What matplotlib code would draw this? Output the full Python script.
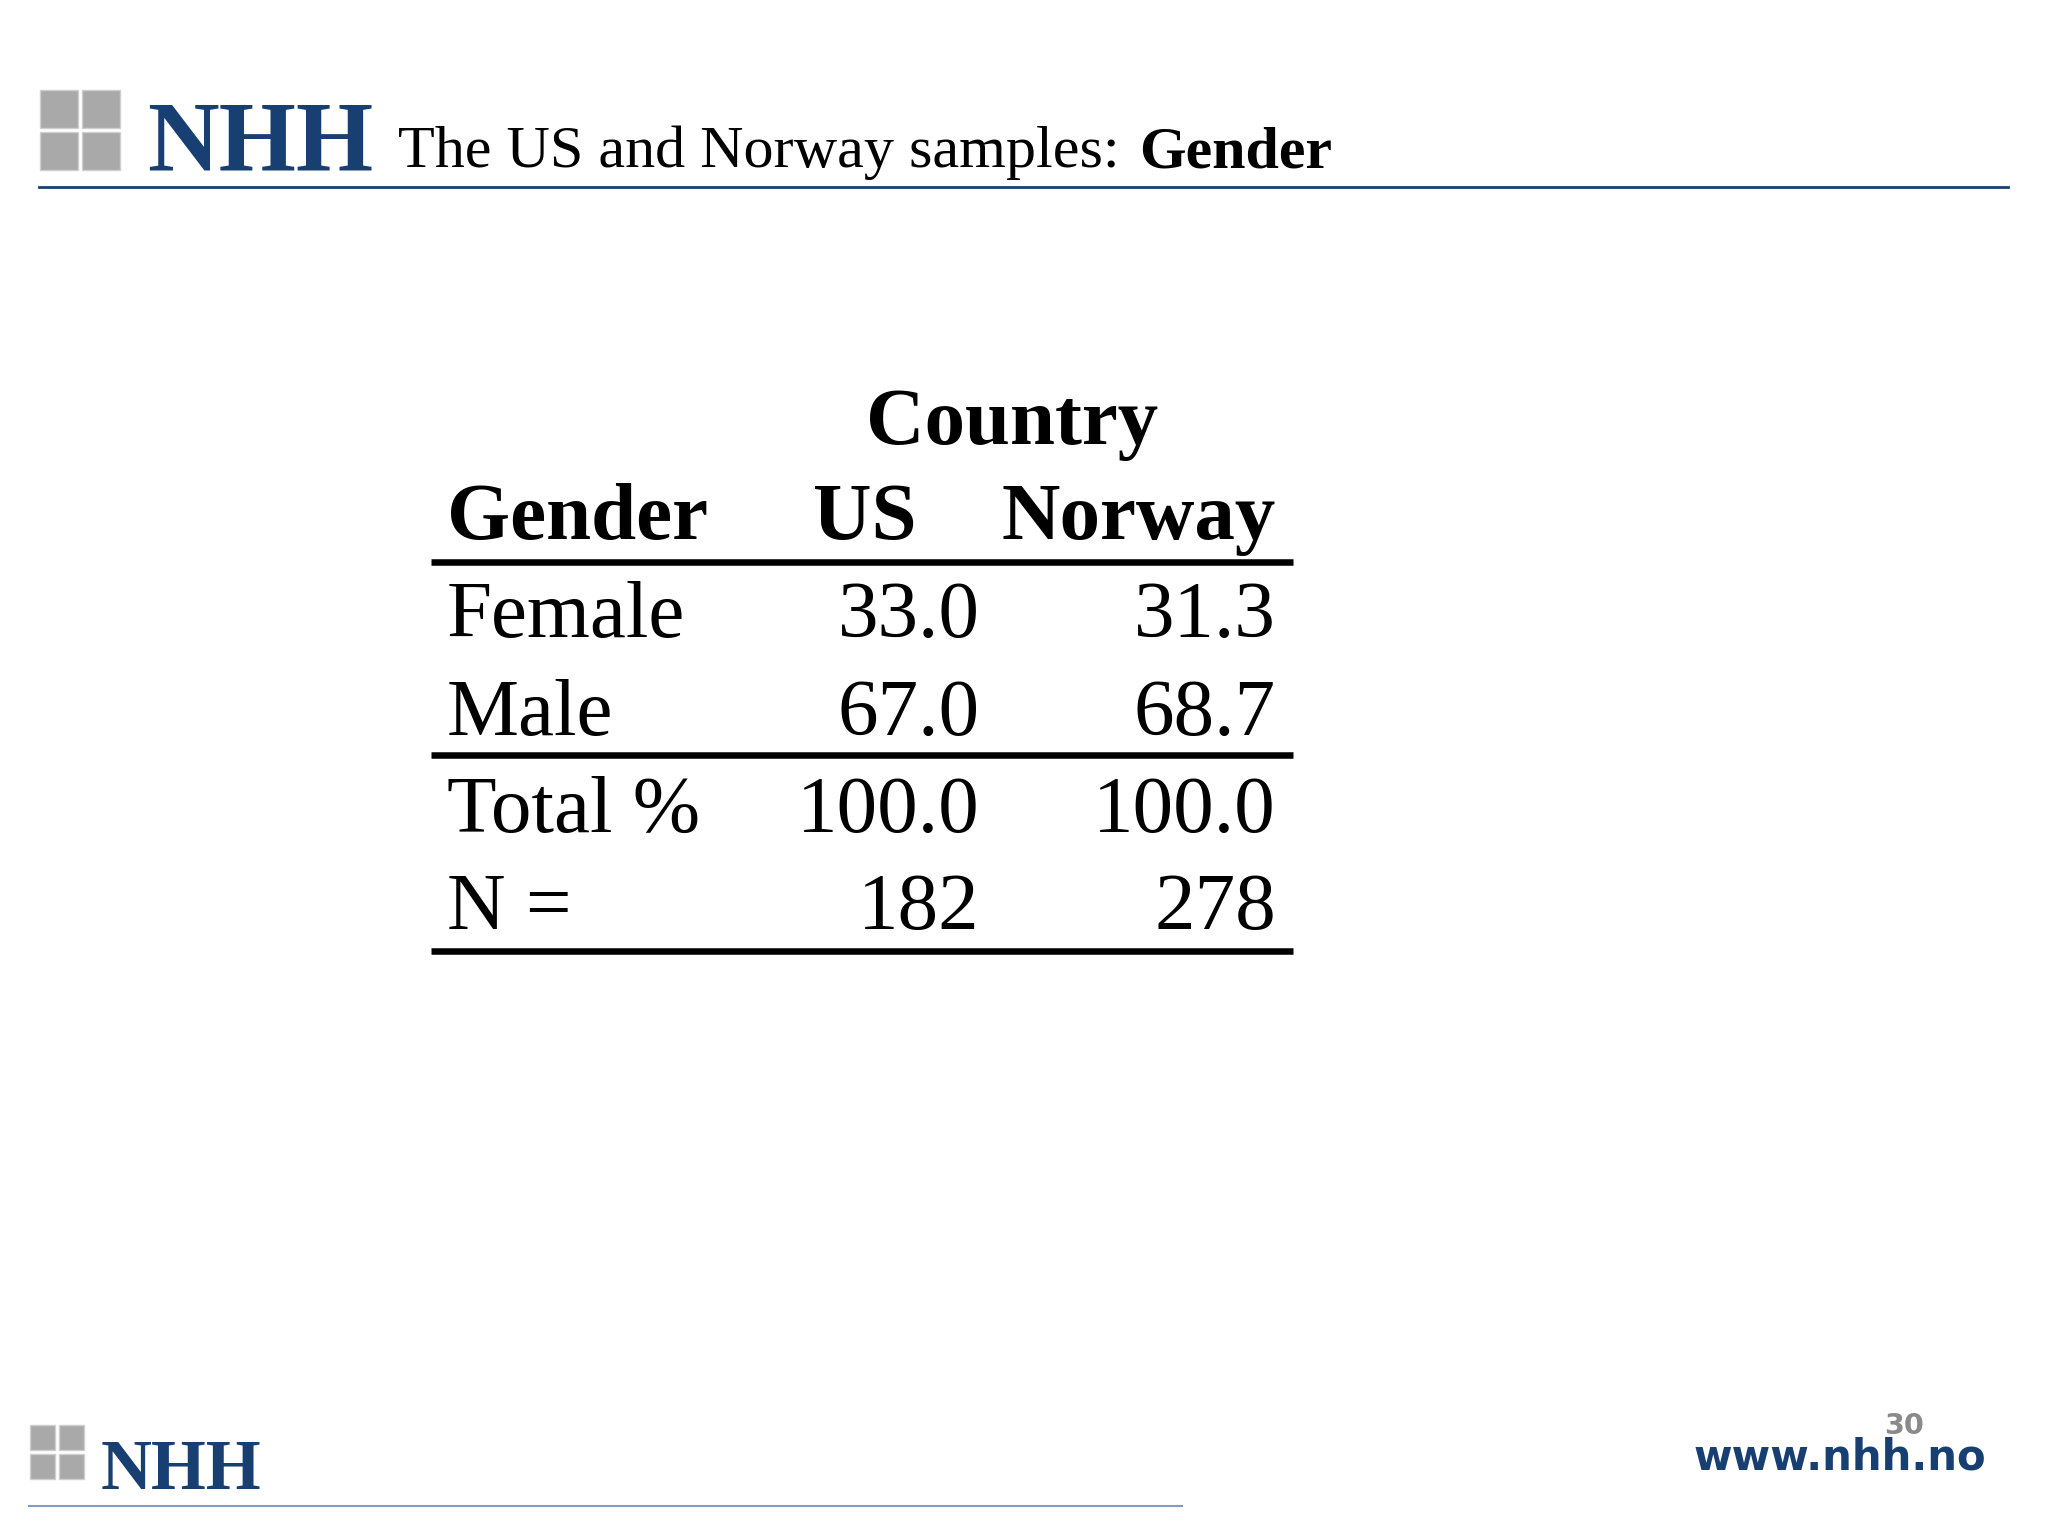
import matplotlib
matplotlib.use("Agg")
from matplotlib import pyplot as plt
from matplotlib.patches import Rectangle

# table content
col_header = "Country"
columns = ["US", "Norway"]
row_labels = ["Female", "Male", "Total %", "N ="]
us_values = ["33.0", "67.0", "100.0", "182"]
norway_values = ["31.3", "68.7", "100.0", "278"]

W, H = 1568, 1176  # working coordinates (reference scale)
SCALE = 1536 / H


def fs(em):
    # em size in reference pixels -> points at dpi 100
    return em * SCALE * 72 / 100


fig = plt.figure(figsize=(20.48, 15.36), dpi=100)
ax = fig.add_axes([0, 0, 1, 1])
ax.set_xlim(0, W)
ax.set_ylim(H, 0)
ax.axis("off")

blue = "#173f72"
serif = "Liberation Serif"


def logo(x, y, size, nhh_em, nhh_x, baseline):
    half = size / 2
    for i in range(2):
        for j in range(2):
            ax.add_patch(Rectangle((x + i * half + 1, y + j * half + 1), half - 3, half - 3,
                                   facecolor="#a9a9a9", edgecolor="#cfcfcf", lw=1))
    ax.text(nhh_x, baseline, "NHH", fontsize=fs(nhh_em), fontfamily=serif,
            fontweight="bold", color=blue, va="baseline", ha="left")


# header
logo(30, 68, 64, 76, 113, 130)
t1 = ax.text(305, 128, "The US and Norway samples:", fontsize=fs(46), fontfamily=serif,
             va="baseline", ha="left")
ax.annotate("Gender", xy=(1, 0), xycoords=t1, xytext=(14, 0), textcoords="offset points",
            fontsize=fs(46), fontfamily=serif, fontweight="bold", va="bottom", ha="left")
ax.plot([30, 1537], [143, 143], color=blue, lw=2)

# table
big = fs(62)
ax.text(775, 340, col_header, fontsize=big, fontfamily=serif, fontweight="bold",
        ha="center", va="baseline")
ax.text(342, 413, "Gender", fontsize=big, fontfamily=serif, fontweight="bold",
        ha="left", va="baseline")
ax.text(662, 413, columns[0], fontsize=big, fontfamily=serif, fontweight="bold",
        ha="center", va="baseline")
ax.text(977, 413, columns[1], fontsize=big, fontfamily=serif, fontweight="bold",
        ha="right", va="baseline")

baselines = [488, 563, 637, 711]
for lab, us, no, yb in zip(row_labels, us_values, norway_values, baselines):
    ax.text(342, yb, lab, fontsize=big, fontfamily=serif, ha="left", va="baseline")
    ax.text(750, yb, us, fontsize=big, fontfamily=serif, ha="right", va="baseline")
    ax.text(977, yb, no, fontsize=big, fontfamily=serif, ha="right", va="baseline")

for yl in [430, 578, 728]:
    ax.plot([330, 990], [yl, yl], color="black", lw=5 * SCALE * 0.72, solid_capstyle="butt")

# footer
logo(22, 1090, 44, 54, 77, 1140)
ax.plot([22, 905], [1153, 1153], color="#7f9cc4", lw=1.5)
ax.text(1473, 1098, "30", fontsize=fs(22), fontfamily="DejaVu Sans", fontweight="bold",
        color="#8a8a8a", ha="right", va="baseline")
ax.text(1521, 1125, "www.nhh.no", fontsize=fs(32), fontfamily="DejaVu Sans",
        fontweight="bold", color=blue, ha="right", va="baseline")

fig.savefig("out.png", dpi=100, facecolor="white")
